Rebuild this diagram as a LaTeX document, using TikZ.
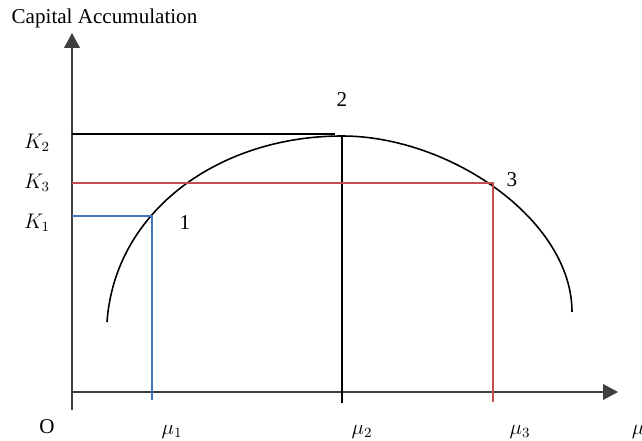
\documentclass[tikz,border=0pt]{standalone}
\usepackage{fontspec}
\setmainfont{Liberation Serif}
\usetikzlibrary{positioning, arrows.meta}
\definecolor{cazul}{RGB}{68,114,196}
\definecolor{crojo}{RGB}{192,80,77}
\definecolor{ceje}{RGB}{64,64,64}

\begin{document}
\begin{tikzpicture}[font=\fontsize{12}{14}\selectfont,
    axis/.style={draw=ceje, line width=0.6pt, -{Triangle[length=8.5pt, width=9pt]}},
    curva/.style={draw, line width=0.9pt},
    nivel/.style={line width=0.8pt},
    lbl/.style={inner sep=1pt}]
  \useasboundingbox (-1.44,-0.96) rectangle (11.4,7.84);

  % --- axes ---
  \coordinate (O) at (0,0);
  \coordinate (ybot) at (0,-0.36);
  \coordinate (ytop) at (0,7.18);
  \coordinate (xend) at (10.92,0);
  \draw[axis] (ybot) -- (ytop);
  \draw[axis] (O) -- (xend);
  \node[lbl] (ylab) at (0.65,7.48) {Capital Accumulation};
  \node[lbl] (olab) at (-0.50,-0.70) {O};

  % --- curve ---
  \coordinate (c0) at (0.70,1.40);
  \coordinate (pk) at (5.40,5.12);
  \coordinate (c1) at (10.0,1.60);
  \draw[curva] (c0) .. controls (0.86,3.64) and (2.96,5.12) .. (pk)
    .. controls (7.56,5.12) and (10.0,3.44) .. (c1);

  % --- point 1 ---
  \coordinate (k1) at (0,3.52);
  \coordinate (p1) at (1.60,3.52);
  \coordinate (m1) at (1.60,-0.16);
  \draw[nivel, cazul] (k1) -- (p1) -- (m1);

  % --- point 2 ---
  \coordinate (k2) at (0,5.16);
  \coordinate (k2e) at (5.26,5.16);
  \coordinate (m2) at (5.40,-0.22);
  \draw[nivel, black] (k2) -- (k2e);
  \draw[curva] (pk) -- (m2);

  % --- point 3 ---
  \coordinate (k3) at (0,4.18);
  \coordinate (p3) at (8.42,4.18);
  \coordinate (m3) at (8.42,-0.20);
  \draw[nivel, crojo] (k3) -- (p3) -- (m3);

  % --- labels ---
  \node[lbl] (lk2) at (-0.70,4.98) {$K_2$};
  \node[lbl] (lk3) at (-0.70,4.18) {$K_3$};
  \node[lbl] (lk1) at (-0.70,3.38) {$K_1$};
  \node[lbl] (n1) at (2.26,3.38) {1};
  \node[lbl] (n2) at (5.40,5.84) {2};
  \node[lbl] (n3) at (8.80,4.24) {3};
  \node[lbl] (lm1) at (2.00,-0.80) {$\mu_1$};
  \node[lbl] (lm2) at (5.80,-0.80) {$\mu_2$};
  \node[lbl] (lm3) at (8.96,-0.80) {$\mu_3$};
  \node[lbl] (lmu) at (11.32,-0.80) {$\mu$};
\end{tikzpicture}
\end{document}
